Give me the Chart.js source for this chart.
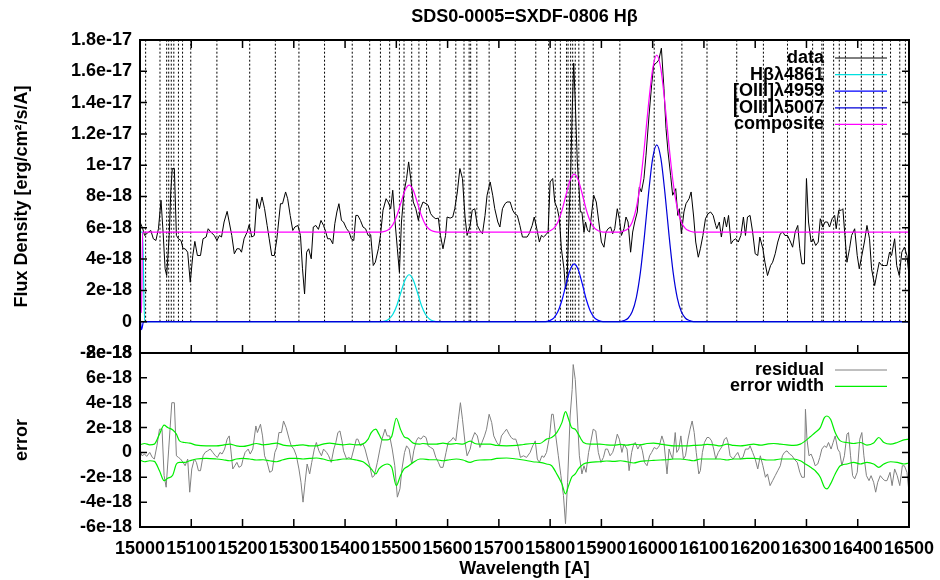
<!DOCTYPE html>
<html lang="en">
<head>
<meta charset="UTF-8">
<title>SDS0-0005=SXDF-0806 Hβ</title>
<script src="https://cdn.jsdelivr.net/npm/chart.js"></script>
<style>
    body { margin: 0; background: #fff; }
    #wrap { position: relative; width: 940px; height: 580px; }
    #wrap canvas { position: absolute; left: 0; top: 0; }
</style>
</head>
<body>
<div id="wrap">
    <canvas id="fluxChart" width="940" height="580"></canvas>
    <canvas id="errChart" width="940" height="580"></canvas>
</div>
<script>
// flux values are in units of 1e-18 erg/cm2/s/A, wavelengths in A
const titleText = 'SDS0-0005=SXDF-0806 Hβ';
const keyLabels = ['data', 'Hβλ4861', '[OIII]λ4959', '[OIII]λ5007', 'composite'];
const errKeyLabels = ['residual', 'error width'];

// OH sky line positions (dotted markers)
const skyLines = [15011, 15039, 15052, 15056, 15061, 15066, 15075, 15083, 15099, 15150, 15214, 15264,
    15310, 15360, 15414, 15448, 15469, 15487, 15506, 15515, 15530, 15544, 15559, 15585, 15616, 15632,
    15642, 15645, 15657, 15681, 15732, 15772, 15797, 15810, 15820, 15832, 15835, 15840, 15844, 15849,
    15856, 15866, 15884, 15936, 16003, 16057, 16106, 16164, 16216, 16263, 16312, 16330, 16333, 16353,
    16364, 16376, 16407, 16431, 16448, 16464, 16482, 16493];

const fluxData = [[15000,6.37],[15005,5.98],[15009,5.51],[15015,5.68],[15021,5.83],[15026,5.30],[15031,5.19],[15036,5.94],
    [15041,7.76],[15045,5.73],[15049,3.38],[15052,2.95],[15057,5.51],[15060,8.29],[15063,9.79],[15067,9.79],[15071,5.51],
    [15075,5.30],[15080,5.19],[15084,4.66],[15088,4.66],[15093,4.44],[15098,2.52],[15103,4.23],[15107,5.13],[15112,4.23],
    [15118,4.23],[15123,5.30],[15129,5.41],[15133,5.94],[15138,5.73],[15145,5.51],[15150,5.19],[15155,5.51],[15159,5.41],
    [15164,6.37],[15170,7.05],[15174,6.37],[15179,5.51],[15184,4.34],[15189,4.66],[15194,4.66],[15198,4.44],[15203,5.30],
    [15209,5.73],[15213,6.20],[15218,5.41],[15223,5.51],[15228,7.86],[15233,7.22],[15238,7.97],[15243,7.22],[15248,6.15],
    [15252,5.30],[15257,4.23],[15262,4.23],[15267,5.30],[15274,7.54],[15278,7.54],[15284,8.29],[15288,7.86],[15293,6.79],
    [15298,5.83],[15302,6.05],[15308,6.15],[15313,5.51],[15317,3.38],[15321,1.77],[15325,4.44],[15329,4.66],[15334,4.02],
    [15338,6.05],[15343,6.15],[15348,5.90],[15353,6.47],[15358,6.15],[15362,5.77],[15366,5.30],[15371,5.30],[15376,4.98],
    [15380,6.26],[15384,7.01],[15388,7.54],[15393,6.47],[15397,6.37],[15403,5.94],[15408,5.73],[15412,5.30],[15417,5.19],
    [15421,6.79],[15425,6.79],[15430,6.47],[15435,6.05],[15440,5.94],[15445,5.51],[15450,5.56],[15455,3.59],[15459,3.80],
    [15465,4.66],[15469,5.51],[15474,7.12],[15480,7.86],[15484,7.65],[15489,7.22],[15493,8.40],[15497,6.58],[15502,4.66],
    [15506,3.16],[15510,6.37],[15515,8.29],[15520,9.15],[15524,10.21],[15528,9.15],[15533,7.65],[15538,7.22],[15543,6.47],
    [15547,7.22],[15552,7.65],[15558,7.54],[15562,7.44],[15567,6.90],[15572,6.69],[15577,6.58],[15582,6.62],[15586,5.51],
    [15591,4.66],[15596,5.51],[15599,6.69],[15605,6.62],[15610,6.69],[15614,7.22],[15619,8.29],[15624,9.79],[15629,9.15],
    [15634,6.69],[15638,5.51],[15644,6.15],[15648,7.12],[15653,7.22],[15658,6.15],[15663,5.83],[15668,5.62],[15673,6.79],
    [15677,8.08],[15683,8.93],[15688,8.08],[15692,7.22],[15698,6.37],[15702,6.05],[15707,7.22],[15712,7.54],[15716,7.65],
    [15722,7.65],[15727,7.12],[15731,6.90],[15736,6.79],[15741,6.15],[15746,5.41],[15751,5.41],[15755,5.41],[15759,5.62],
    [15765,6.15],[15769,6.69],[15774,5.94],[15779,5.09],[15783,5.51],[15787,5.41],[15792,5.56],[15796,5.73],[15800,8.93],
    [15805,9.15],[15809,7.65],[15814,7.22],[15818,6.58],[15822,4.66],[15827,3.38],[15830,2.09],[15833,2.52],[15836,5.94],
    [15840,9.36],[15843,13.42],[15846,16.52],[15849,14.06],[15853,10.21],[15856,8.72],[15859,7.01],[15862,7.01],[15866,5.73],
    [15869,6.37],[15873,5.83],[15877,5.73],[15882,7.22],[15885,8.08],[15890,7.65],[15895,6.37],[15900,5.09],[15905,4.76],
    [15909,5.73],[15913,5.94],[15918,6.05],[15922,5.62],[15926,5.94],[15931,7.22],[15935,6.58],[15939,5.51],[15944,5.94],
    [15948,6.69],[15952,6.37],[15957,4.44],[15961,5.73],[15965,6.37],[15970,7.01],[15974,8.61],[15978,8.29],[15983,9.15],
    [15987,10.64],[15993,13.21],[15998,15.13],[16002,16.41],[16007,16.52],[16012,16.73],[16017,17.48],[16022,14.91],
    [16026,12.35],[16030,10.85],[16035,9.36],[16039,8.08],[16045,8.50],[16049,6.79],[16052,7.22],[16056,5.62],[16061,7.01],
    [16065,7.54],[16071,7.86],[16075,8.29],[16080,6.69],[16084,5.09],[16089,4.12],[16093,4.66],[16098,5.51],[16103,6.58],
    [16108,6.90],[16113,7.01],[16118,6.79],[16123,6.15],[16125,5.94],[16130,6.37],[16134,5.41],[16140,6.69],[16144,6.05],
    [16148,6.79],[16153,4.98],[16157,5.19],[16162,5.30],[16167,5.09],[16172,5.51],[16177,6.69],[16181,5.51],[16185,6.69],
    [16190,6.79],[16195,5.73],[16200,4.34],[16205,4.23],[16209,5.41],[16215,4.66],[16219,3.80],[16224,2.95],[16230,3.59],
    [16234,3.80],[16239,4.34],[16244,5.09],[16249,5.62],[16254,5.73],[16258,5.51],[16263,5.51],[16269,5.09],[16273,4.76],
    [16278,5.73],[16283,6.15],[16287,4.66],[16291,3.70],[16296,3.70],[16300,9.15],[16304,6.37],[16309,5.09],[16313,5.30],
    [16318,4.87],[16323,5.09],[16327,6.58],[16332,6.05],[16336,6.37],[16341,6.37],[16345,6.05],[16350,6.58],[16355,6.79],
    [16358,5.94],[16363,7.12],[16368,7.12],[16371,7.22],[16375,5.51],[16379,3.80],[16384,4.66],[16388,5.51],[16394,5.94],
    [16399,4.23],[16403,3.38],[16408,4.23],[16413,5.09],[16418,6.15],[16423,5.30],[16427,3.38],[16433,2.31],[16438,3.16],
    [16442,3.80],[16447,3.59],[16452,3.59],[16457,3.59],[16462,4.44],[16466,4.23],[16472,5.30],[16476,3.59],[16481,2.95],
    [16486,4.44],[16491,4.76],[16496,4.23],[16500,2.95]];

const hbModel = [[15000,5.73],[15005,5.73],[15009,0],[15469,0],[15477,0.04],[15485,0.16],[15493,0.46],[15501,1.04],
    [15509,1.88],[15517,2.67],[15525,3.0],[15533,2.67],[15541,1.88],[15549,1.04],[15557,0.46],[15565,0.16],[15573,0.04],
    [15581,0],[16500,0]];

const o4959Model = [[15000,0.4],[15003,-0.5],[15007,0],[15791,0],[15799,0.07],[15807,0.23],[15815,0.63],[15823,1.37],
    [15831,2.38],[15839,3.31],[15847,3.7],[15855,3.31],[15863,2.38],[15871,1.37],[15879,0.63],[15887,0.23],[15895,0.07],
    [15903,0],[16500,0]];

const o5007Model = [[15000,0],[15936,0],[15944,0.07],[15952,0.22],[15960,0.63],[15968,1.53],[15976,3.14],[15984,5.5],
    [15992,8.2],[16000,10.43],[16008,11.3],[16016,10.43],[16024,8.2],[16032,5.5],[16040,3.14],[16048,1.53],[16056,0.63],
    [16064,0.22],[16072,0.07],[16080,0],[16500,0]];

const compModel = [[15000,0.6],[15003,0.6],[15005,5.73],[15469,5.73],[15477,5.77],[15485,5.89],[15493,6.19],[15501,6.77],
    [15509,7.61],[15517,8.40],[15525,8.73],[15533,8.40],[15541,7.61],[15549,6.77],[15557,6.19],[15565,5.89],[15573,5.77],
    [15581,5.73],[15791,5.73],[15799,5.80],[15807,5.96],[15815,6.36],[15823,7.10],[15831,8.11],[15839,9.04],[15847,9.43],
    [15855,9.04],[15863,8.11],[15871,7.10],[15879,6.36],[15887,5.96],[15895,5.80],[15903,5.73],[15936,5.73],[15944,5.80],
    [15952,5.95],[15960,6.36],[15968,7.26],[15976,8.87],[15984,11.23],[15992,13.93],[16000,16.16],[16008,17.03],
    [16016,16.16],[16024,13.93],[16032,11.23],[16040,8.87],[16048,7.26],[16056,6.36],[16064,5.95],[16072,5.80],
    [16080,5.73],[16500,5.73]];

const residData = [[15000,0.13],[15004,-0.27],[15009,-0.13],[15013,-0.32],[15019,0],[15024,-0.4],[15028,-0.53],[15033,0.53],
    [15038,1.87],[15043,1.87],[15047,-1.87],[15051,-2.8],[15056,0.27],[15059,2.13],[15062,4.0],[15067,4.0],[15071,-0.27],
    [15075,-0.4],[15079,-0.53],[15084,-0.8],[15088,-1.07],[15093,-0.53],[15097,-3.2],[15101,-1.33],[15106,-0.53],[15110,-0.8],
    [15114,-1.47],[15118,-1.47],[15123,-0.27],[15127,0],[15132,0.13],[15137,0.27],[15142,0],[15147,-0.27],[15151,-0.4],
    [15156,0],[15160,-0.13],[15165,0.27],[15170,1.07],[15174,1.33],[15177,0.27],[15181,-1.33],[15185,-1.07],[15189,-0.8],
    [15193,-1.2],[15198,-1.07],[15201,-0.53],[15205,0],[15211,0.27],[15215,-0.13],[15220,0.27],[15226,2.13],[15229,1.6],
    [15235,2.27],[15239,1.33],[15243,-0.27],[15248,-0.8],[15253,-1.6],[15258,-1.47],[15263,0],[15267,0.4],[15271,1.6],
    [15276,1.6],[15280,2.53],[15285,2.0],[15291,1.07],[15295,0.53],[15300,0.27],[15305,-0.27],[15310,-1.33],[15314,-2.4],
    [15318,-4.0],[15322,-2.4],[15326,-0.93],[15331,-1.73],[15335,-0.8],[15340,0.27],[15344,0.8],[15349,0.13],[15354,-0.27],
    [15358,0.27],[15364,0],[15368,-0.27],[15373,-0.8],[15378,0.27],[15382,0.8],[15386,1.6],[15390,1.73],[15394,0.93],
    [15397,0.13],[15403,-0.53],[15407,-0.4],[15412,-0.53],[15417,0.27],[15422,1.07],[15425,1.07],[15430,0.53],[15435,0.67],
    [15439,0.27],[15444,-0.53],[15448,-1.07],[15453,-2.0],[15457,-1.87],[15463,-0.8],[15468,0.27],[15472,1.07],[15478,1.87],
    [15482,1.33],[15487,1.33],[15492,0.27],[15497,-1.07],[15502,-3.6],[15507,-2.93],[15511,-1.33],[15516,0],[15520,0.53],
    [15525,0.27],[15530,-0.93],[15534,0.13],[15539,0.93],[15543,1.2],[15548,1.07],[15553,1.33],[15558,1.2],[15562,0.53],
    [15567,0.4],[15572,0.27],[15577,-0.4],[15582,-0.8],[15586,-1.2],[15591,-1.2],[15597,0],[15601,0.8],[15606,0.93],
    [15611,1.2],[15616,0.93],[15621,2.67],[15625,4.0],[15629,2.67],[15634,0.8],[15638,-0.27],[15644,0.27],[15648,1.07],
    [15653,1.6],[15658,1.33],[15663,0.4],[15667,0.8],[15672,1.33],[15676,1.87],[15681,3.07],[15686,2.4],[15690,1.33],
    [15696,0.8],[15701,0.53],[15705,1.33],[15710,1.6],[15715,1.87],[15720,1.47],[15724,1.2],[15728,1.07],[15733,1.07],
    [15738,0.4],[15742,-0.4],[15748,-0.27],[15754,-0.4],[15761,0],[15766,0.53],[15771,0.93],[15775,-0.53],[15779,-0.8],
    [15784,-0.27],[15788,-0.4],[15793,0],[15799,1.33],[15803,3.07],[15806,3.07],[15811,1.33],[15816,-0.27],[15821,-1.87],
    [15826,-3.47],[15830,-5.73],[15834,-2.4],[15839,2.93],[15843,5.07],[15845,7.07],[15849,5.87],[15853,2.93],[15857,-0.27],
    [15862,-1.73],[15866,-1.07],[15870,-1.6],[15875,0],[15879,0.8],[15884,1.87],[15889,1.73],[15894,0],[15899,-0.8],
    [15904,-0.4],[15908,0.27],[15912,0.27],[15917,-0.27],[15922,0],[15926,0.53],[15931,1.47],[15935,1.07],[15940,0],
    [15944,0.67],[15950,0.27],[15954,-1.47],[15959,0],[15963,0.67],[15966,0.8],[15971,0.27],[15976,0.67],[15980,0.13],
    [15984,-0.8],[15989,-1.07],[15994,-0.27],[15998,0],[16003,0.4],[16008,0.27],[16013,0.53],[16018,1.33],[16022,0.8],
    [16028,-1.73],[16032,0.27],[16035,-0.13],[16039,-0.53],[16044,1.6],[16047,0],[16051,0.27],[16055,1.33],[16060,-0.53],
    [16064,-0.27],[16069,1.07],[16073,1.87],[16077,2.53],[16081,1.6],[16085,0],[16090,-1.73],[16093,-1.47],[16097,0],
    [16101,0.8],[16106,1.2],[16110,1.2],[16115,0.93],[16119,0.27],[16123,-0.53],[16128,0],[16132,0.27],[16136,0.53],
    [16140,1.07],[16144,1.2],[16147,0.8],[16151,-0.27],[16157,-0.53],[16161,-0.27],[16166,0],[16171,-0.53],[16176,-0.4],
    [16181,0.27],[16187,0.27],[16190,0.53],[16195,0],[16200,-0.53],[16205,-1.33],[16210,-0.27],[16215,-1.07],[16220,-2.0],
    [16224,-1.73],[16229,-2.67],[16234,-2.27],[16239,-1.87],[16244,-1.47],[16249,-1.07],[16253,-0.27],[16257,0],[16262,0.13],
    [16267,-0.13],[16272,-0.27],[16276,-0.53],[16282,-0.8],[16287,-1.6],[16291,-2.0],[16296,-2.0],[16298,3.47],[16301,1.07],
    [16305,-0.27],[16309,-0.13],[16313,-0.53],[16317,-1.07],[16322,-0.93],[16326,-0.4],[16330,0.27],[16335,0.53],[16339,0.4],
    [16343,0.8],[16348,0.27],[16352,0.8],[16356,1.33],[16361,0.27],[16365,0],[16369,-1.07],[16374,-0.27],[16379,1.47],
    [16382,1.6],[16386,-0.27],[16390,-1.87],[16394,-2.13],[16399,-1.6],[16404,1.07],[16408,1.6],[16412,-0.27],[16417,-1.87],
    [16422,-2.27],[16426,-1.87],[16431,-2.4],[16435,-3.2],[16439,-2.4],[16444,-1.87],[16449,-2.13],[16453,-2.27],
    [16457,-2.27],[16463,-1.6],[16467,-2.67],[16472,-1.33],[16477,-1.87],[16482,-2.67],[16487,-1.07],[16491,-1.07],
    [16496,-1.6],[16500,-3.2]];

// [wavelength, upper, lower] of the error envelope
const errBand = [[15000,0.61,-0.61],[15009,0.72,-0.75],[15019,0.61,-0.67],[15028,0.67,-0.72],[15038,1.47,-1.47],
    [15047,2.19,-2.27],[15054,2.0,-2.08],[15064,1.81,-1.81],[15071,1.47,-0.93],[15077,0.93,-0.8],[15087,0.8,-0.8],
    [15097,0.75,-0.67],[15110,0.59,-0.53],[15129,0.53,-0.48],[15149,0.53,-0.53],[15162,0.59,-0.59],[15175,0.67,-0.67],
    [15188,0.53,-0.53],[15201,0.48,-0.48],[15214,0.59,-0.53],[15227,0.72,-0.61],[15240,0.61,-0.59],[15253,0.67,-0.67],
    [15266,0.75,-0.75],[15279,0.59,-0.59],[15292,0.53,-0.48],[15305,0.56,-0.48],[15318,0.61,-0.53],[15331,0.53,-0.48],
    [15344,0.53,-0.45],[15357,0.67,-0.53],[15370,0.75,-0.67],[15383,0.67,-0.61],[15396,0.61,-0.53],[15409,0.67,-0.53],
    [15422,0.61,-0.61],[15435,0.69,-0.75],[15445,1.07,-1.07],[15451,1.6,-1.33],[15460,1.87,-1.73],[15466,1.47,-1.33],
    [15473,1.01,-1.07],[15482,1.01,-0.93],[15491,1.28,-1.2],[15500,2.75,-2.67],[15508,1.87,-1.87],[15515,1.28,-1.33],
    [15523,1.12,-1.12],[15533,0.75,-0.8],[15546,0.67,-0.53],[15552,0.72,-0.53],[15565,0.67,-0.59],[15578,0.67,-0.59],
    [15591,0.75,-0.67],[15604,0.67,-0.59],[15617,0.72,-0.53],[15630,0.67,-0.61],[15644,0.91,-0.8],[15653,0.72,-0.67],
    [15663,0.67,-0.61],[15683,0.67,-0.59],[15696,0.56,-0.48],[15715,0.53,-0.45],[15735,0.56,-0.53],[15748,0.64,-0.61],
    [15766,0.72,-0.75],[15780,0.72,-0.8],[15793,1.07,-0.93],[15803,1.2,-1.07],[15813,1.6,-1.73],[15823,2.4,-2.53],
    [15830,3.28,-3.33],[15836,2.67,-2.67],[15842,2.0,-2.0],[15849,1.87,-1.73],[15855,1.47,-1.33],[15865,0.8,-0.93],
    [15878,0.67,-0.8],[15897,0.67,-0.75],[15910,0.61,-0.69],[15924,0.59,-0.72],[15937,0.64,-0.67],[15950,0.59,-0.75],
    [15963,0.67,-0.85],[15976,0.61,-0.72],[15989,0.72,-0.67],[16002,0.75,-0.64],[16015,0.67,-0.61],[16028,0.59,-0.59],
    [16041,0.53,-0.53],[16054,0.53,-0.53],[16067,0.53,-0.59],[16080,0.56,-0.67],[16093,0.59,-0.53],[16106,0.64,-0.53],
    [16119,0.61,-0.53],[16132,0.53,-0.53],[16145,0.67,-0.61],[16158,0.56,-0.53],[16171,0.53,-0.53],[16184,0.59,-0.48],
    [16197,0.67,-0.48],[16210,0.59,-0.53],[16223,0.67,-0.61],[16236,0.72,-0.61],[16249,0.67,-0.53],[16262,0.61,-0.53],
    [16275,0.56,-0.53],[16288,0.67,-0.67],[16298,0.93,-0.93],[16308,1.28,-1.2],[16317,1.6,-1.47],[16327,2.0,-2.0],
    [16335,2.8,-2.8],[16340,2.93,-2.93],[16347,2.67,-2.53],[16356,1.6,-1.73],[16366,0.93,-1.07],[16379,0.8,-0.93],
    [16392,0.72,-0.8],[16405,0.8,-0.93],[16418,0.59,-0.8],[16431,0.75,-0.93],[16441,1.2,-1.2],[16451,0.8,-0.93],
    [16464,0.67,-0.75],[16477,0.8,-0.8],[16490,1.01,-0.93],[16500,1.07,-0.85]];

const FONT = '"Liberation Sans", Arial, sans-serif';
Chart.defaults.font.family = FONT;
Chart.defaults.font.size = 18;
Chart.defaults.font.weight = 'bold';
Chart.defaults.color = '#000';

function sciLabel(v) {
    if (v === 0) return '0';
    if (Math.abs(v) >= 10) return (v / 10) + 'e-17';
    return v + 'e-18';
}

function xy(list, col) {
    return list.map(p => ({ x: p[0], y: p[col || 1] }));
}

// gnuplot look: boxed frame, inward ticks, key with sample on the right
const gnuFrame = {
    id: 'gnuFrame',
    afterDatasetsDraw(chart, args, opts) {
        const ctx = chart.ctx;
        const a = chart.chartArea;
        const xs = chart.scales.x;
        const ys = chart.scales.y;
        ctx.save();
        ctx.strokeStyle = '#000';
        ctx.lineWidth = 1.5;
        ctx.beginPath();
        ys.ticks.forEach(t => {
            const py = ys.getPixelForValue(t.value);
            ctx.moveTo(a.left, py); ctx.lineTo(a.left + 7, py);
            ctx.moveTo(a.right, py); ctx.lineTo(a.right - 7, py);
        });
        xs.ticks.forEach(t => {
            const px = xs.getPixelForValue(t.value);
            if (opts.topTicks) { ctx.moveTo(px, a.top); ctx.lineTo(px, a.top + 8); }
            ctx.moveTo(px, a.bottom); ctx.lineTo(px, a.bottom - 8);
        });
        ctx.stroke();
        ctx.lineWidth = 2;
        ctx.strokeRect(a.left, a.top, a.right - a.left, a.bottom - a.top);

        ctx.font = 'bold 18px ' + FONT;
        ctx.textAlign = 'right';
        ctx.textBaseline = 'middle';
        let row = 0;
        chart.data.datasets.forEach(ds => {
            if (!ds.inKey) return;
            const y = opts.keyTop + row * opts.keyStep;
            ctx.fillStyle = '#000';
            ctx.fillText(ds.label, opts.keyRight, y);
            ctx.strokeStyle = ds.borderColor;
            ctx.lineWidth = ds.borderWidth;
            ctx.beginPath();
            ctx.moveTo(opts.keyRight + 11, y);
            ctx.lineTo(opts.keyRight + 63, y);
            ctx.stroke();
            row++;
        });
        if (opts.title) {
            ctx.textAlign = 'center';
            ctx.fillStyle = '#000';
            ctx.fillText(opts.title, (a.left + a.right) / 2, opts.titleY);
        }
        ctx.restore();
    }
};

const skyPoints = [];
skyLines.forEach(w => {
    skyPoints.push({ x: w, y: 0 }, { x: w, y: 18 }, { x: w, y: null });
});

const noGrid = { display: false, drawTicks: false };

new Chart(document.getElementById('fluxChart'), {
    type: 'line',
    data: {
        datasets: [
            { label: 'sky', data: skyPoints, borderColor: '#000', borderWidth: 1, borderDash: [2, 2], order: 10 },
            { label: keyLabels[0], data: xy(fluxData), borderColor: '#000', borderWidth: 1, order: 5, inKey: true },
            { label: keyLabels[1], data: xy(hbModel), borderColor: '#00e0e0', borderWidth: 1.2, order: 4, inKey: true, cubicInterpolationMode: 'monotone' },
            { label: keyLabels[2], data: xy(o4959Model), borderColor: '#0000ff', borderWidth: 1.2, order: 3, inKey: true, cubicInterpolationMode: 'monotone' },
            { label: keyLabels[3], data: xy(o5007Model), borderColor: '#0000d8', borderWidth: 1.2, order: 2, inKey: true, cubicInterpolationMode: 'monotone' },
            { label: keyLabels[4], data: xy(compModel), borderColor: '#ff00ff', borderWidth: 1.2, order: 1, inKey: true, cubicInterpolationMode: 'monotone' }
        ]
    },
    options: {
        responsive: false,
        animation: false,
        devicePixelRatio: 1,
        layout: { padding: { left: 0, top: 40, right: 31, bottom: 227 } },
        elements: { point: { radius: 0 }, line: { tension: 0 } },
        plugins: {
            legend: { display: false },
            tooltip: { enabled: false },
            gnuFrame: { topTicks: true, keyRight: 824, keyTop: 58, keyStep: 16.6, title: titleText, titleY: 17 }
        },
        scales: {
            x: {
                type: 'linear', min: 15000, max: 16500,
                ticks: { stepSize: 100, display: false },
                grid: noGrid, border: { display: false },
                afterFit: s => { s.height = 0; s.paddingLeft = 0; s.paddingRight = 0; }
            },
            y: {
                min: -2, max: 18,
                ticks: { stepSize: 2, callback: sciLabel, padding: 8 },
                grid: noGrid, border: { display: false },
                title: { display: true, text: 'Flux Density [erg/cm²/s/A]', padding: { top: 11, bottom: 0 } },
                afterFit: s => { s.width = 140; }
            }
        }
    },
    plugins: [gnuFrame]
});

new Chart(document.getElementById('errChart'), {
    type: 'line',
    data: {
        datasets: [
            { label: errKeyLabels[0], data: xy(residData), borderColor: '#808080', borderWidth: 1, order: 2, inKey: true },
            { label: errKeyLabels[1], data: xy(errBand, 1), borderColor: '#00ee00', borderWidth: 1.2, order: 1, inKey: true, cubicInterpolationMode: 'monotone' },
            { label: errKeyLabels[1], data: xy(errBand, 2), borderColor: '#00ee00', borderWidth: 1.2, order: 1, cubicInterpolationMode: 'monotone' }
        ]
    },
    options: {
        responsive: false,
        animation: false,
        devicePixelRatio: 1,
        layout: { padding: { left: 0, top: 353, right: 31, bottom: 0 } },
        elements: { point: { radius: 0 }, line: { tension: 0 } },
        plugins: {
            legend: { display: false },
            tooltip: { enabled: false },
            gnuFrame: { topTicks: false, keyRight: 824, keyTop: 370, keyStep: 16.4 }
        },
        scales: {
            x: {
                type: 'linear', min: 15000, max: 16500,
                ticks: { stepSize: 100, autoSkip: false, maxRotation: 0, minRotation: 0, padding: 11, callback: v => String(v) },
                grid: noGrid, border: { display: false },
                title: { display: true, text: 'Wavelength [A]', padding: { top: 0, bottom: 0 } },
                afterFit: s => { s.height = 53; s.paddingLeft = 0; s.paddingRight = 0; }
            },
            y: {
                min: -6, max: 8,
                ticks: { stepSize: 2, callback: sciLabel, padding: 8 },
                grid: noGrid, border: { display: false },
                title: { display: true, text: 'error', padding: { top: 11, bottom: 0 } },
                afterFit: s => { s.width = 140; }
            }
        }
    },
    plugins: [gnuFrame]
});
</script>
</body>
</html>
